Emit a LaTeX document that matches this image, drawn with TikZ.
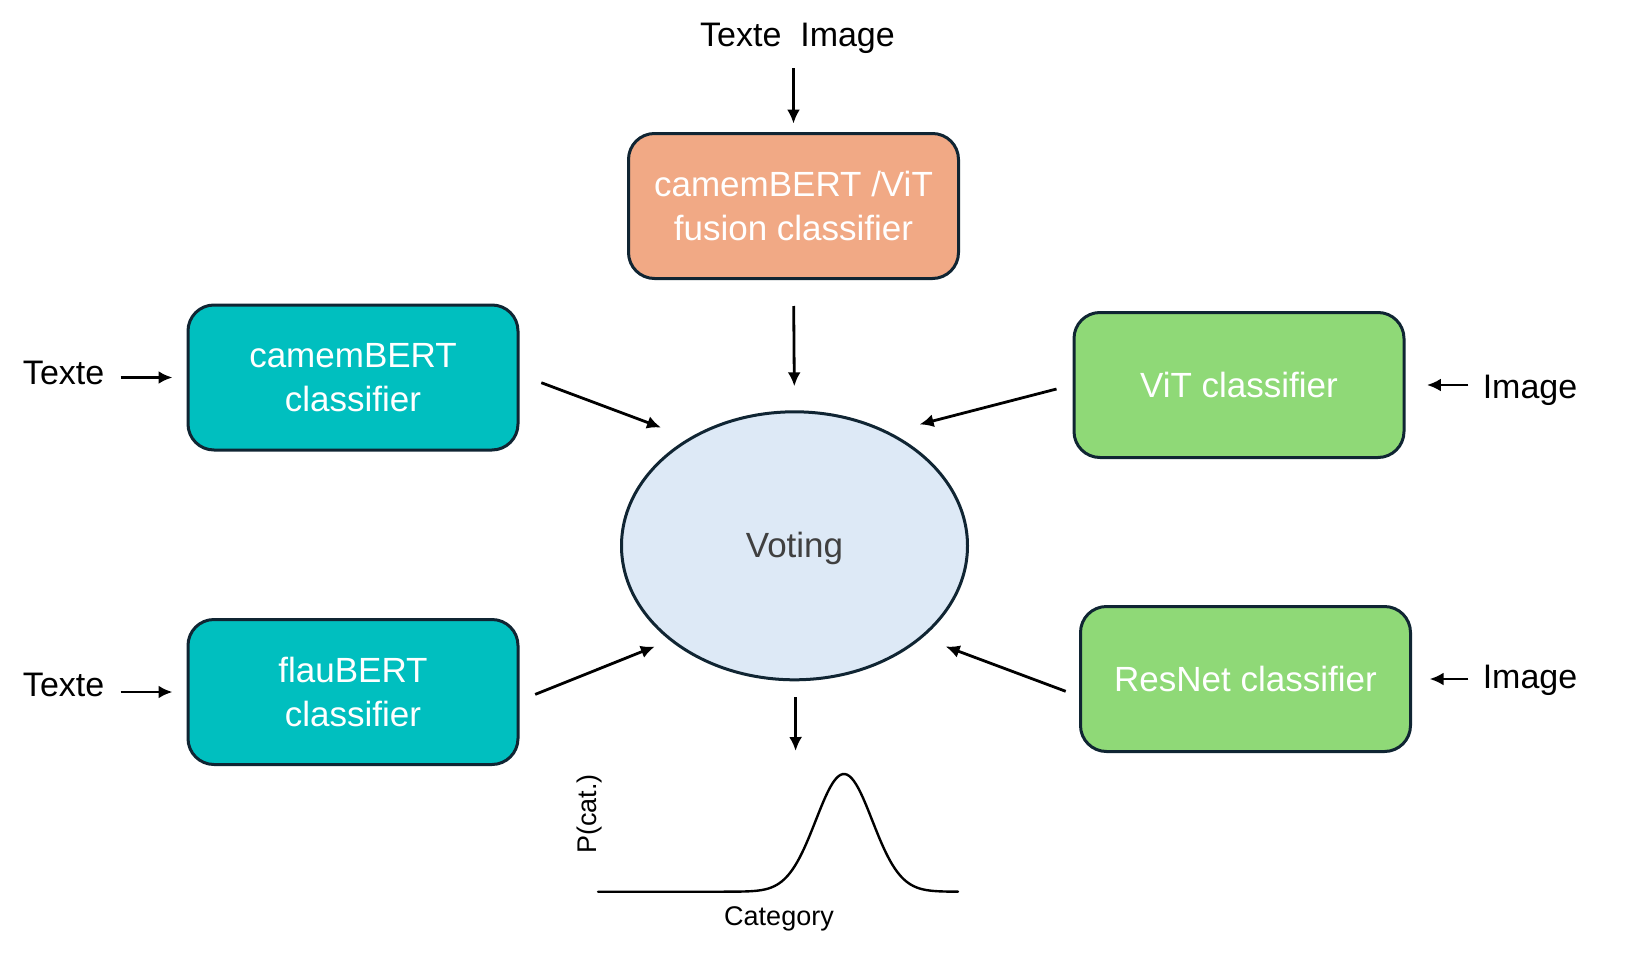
\documentclass[tikz,border=0pt]{standalone}
\usepackage{fontspec}
\setmainfont{Liberation Sans}
\usetikzlibrary{arrows.meta,shapes.geometric,calc}
\definecolor{salmonc}{RGB}{241,169,133}
\definecolor{tealc}{RGB}{0,191,191}
\definecolor{greenc}{RGB}{143,217,119}
\definecolor{voteblue}{RGB}{221,233,246}
\definecolor{edgec}{RGB}{16,37,51}
\definecolor{votetext}{RGB}{64,64,64}
\begin{document}
\begin{tikzpicture}[x=0.5pt,y=-0.5pt,
  box/.style={draw=edgec, line width=1.5pt, rounded corners=13pt, minimum width=165pt, minimum height=72.5pt,
    text=white, align=center, font=\fontsize{17.5}{22}\selectfont, inner sep=0pt},
  lbl/.style={font=\fontsize{17}{20}\selectfont, text=black, inner sep=0pt, anchor=base},
  arr/.style={-{Latex[length=7pt,width=6.5pt]}, line width=1.4pt}]
\useasboundingbox (0,0) rectangle (1635,959);

% boxes
\node[box, fill=salmonc] (fus) at (793.5,206) {camemBERT /ViT\\fusion classifier};
\node[box, fill=tealc] (cam) at (353,377.5) {camemBERT\\classifier};
\node[box, fill=tealc] (flau) at (353,692) {flauBERT\\classifier};
\node[box, fill=greenc] (vit) at (1239,385) {ViT classifier};
\node[box, fill=greenc] (res) at (1245.5,679) {ResNet classifier};
\node[ellipse, draw=edgec, line width=1.5pt, fill=voteblue, minimum width=173pt, minimum height=134pt,
  inner sep=0pt] (vote) at (794.5,545.8) {};
\node[text=votetext, font=\fontsize{17.5}{22}\selectfont, inner sep=0pt] (votetxt) at (794.5,548) {Voting};

% input labels
\node[lbl] (ti) at (797.5,46.7) {Texte\ \ Image};
\node[lbl] (tl1) at (63.6,384) {Texte};
\node[lbl] (tl2) at (63.6,696) {Texte};
\node[lbl] (ir1) at (1530,398) {Image};
\node[lbl] (ir2) at (1530,688) {Image};

% input arrows
\draw[arr, shorten <=7pt, shorten >=4.2pt] (ti.south -| fus.north) -- (fus.north);
\draw[arr, shorten <=8pt, shorten >=7pt] (tl1.east |- cam.west) -- (cam.west);
\draw[arr, shorten <=8pt, shorten >=7pt] (tl2.east |- flau.west) -- (flau.west);
\draw[arr, shorten <=7pt, shorten >=10.7pt] (ir1.west |- vit.east) -- (vit.east);
\draw[arr, shorten <=7pt, shorten >=8.8pt] (ir2.west |- res.east) -- (res.east);

% arrows to voting
\draw[arr] ($(cam.east)+(21.8,5.2)$) -- ($(vote.center)+(-133.5,-118.3)$);
\draw[arr, shorten <=13pt, shorten >=12pt] (fus.south) -- (vote.north);
\draw[arr] ($(vit.west)+(-16,4)$) -- ($(vote.center)+(125.1,-121.4)$);
\draw[arr] ($(flau.east)+(15.7,2.4)$) -- ($(vote.center)+(-139.7,100.7)$);
\draw[arr] ($(res.west)+(-13.3,12.3)$) -- ($(vote.center)+(151.2,100.7)$);

% output
\coordinate (outend) at (795.6,751);
\draw[arr] ($(vote.south)+(1,15.7)$) -- (outend);
\draw[line width=1.2pt, line cap=round] plot[domain=598:958, samples=160, smooth]
  (\x, {891.7 - 117.7*exp(-0.5*((\x-844)/28.2)^2)});
\node[font=\fontsize{13.5}{16}\selectfont, anchor=base, inner sep=0pt] (cat) at (779,925) {Category};
\node[font=\fontsize{13.5}{16}\selectfont, rotate=90, inner sep=0pt] (pcat) at (590,814) {P(cat.)};
\end{tikzpicture}
\end{document}
